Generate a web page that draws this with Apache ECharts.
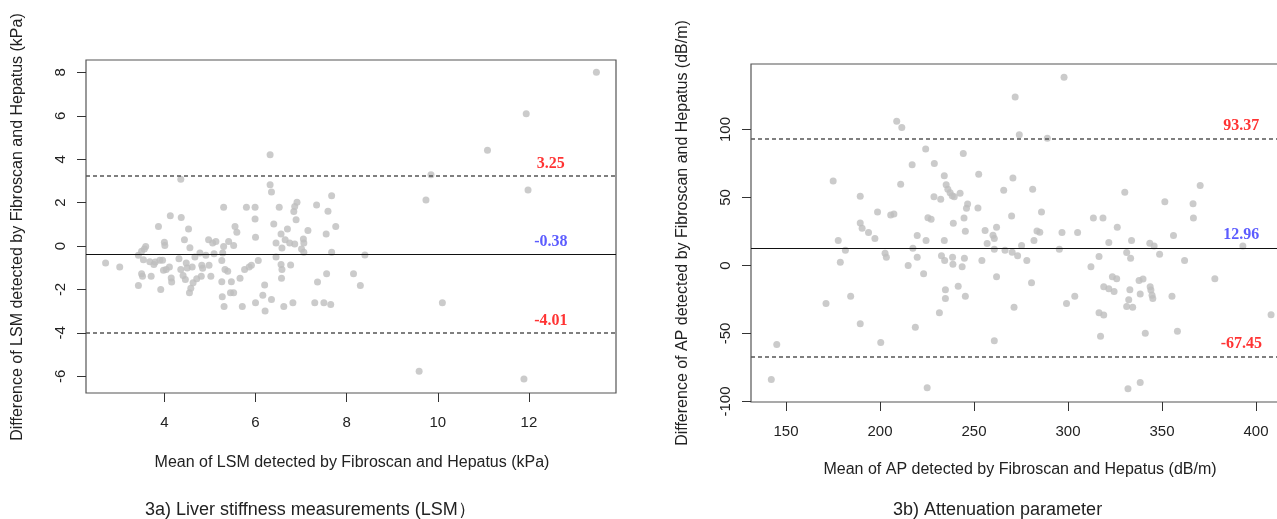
<!DOCTYPE html>
<html>
<head>
<meta charset="utf-8">
<script src="https://cdn.jsdelivr.net/npm/echarts@6/dist/echarts.min.js"></script>
<style>
  html, body { margin: 0; padding: 0; background: #fff; overflow: hidden; }
  /* the right panel runs past the window edge in the reference, so the canvas is a bit wider */
  #main { width: 1300px; height: 519px; }
</style>
</head>
<body>
<div id="main"></div>
<script>
// 3a) LSM: mean of the two devices (kPa) and their difference
const lsmMean = [2.71, 3.02, 3.43, 3.43, 3.50, 3.52, 3.50, 3.54, 3.59, 3.56, 3.68, 3.71, 3.77, 3.80, 3.87, 3.90, 3.92, 3.96, 3.98, 4.00,
  4.01, 4.04, 4.11, 4.13, 4.15, 4.16, 4.32, 4.36, 4.36, 4.37, 4.41, 4.44, 4.46, 4.48, 4.50, 4.53, 4.55, 4.56, 4.58, 4.61,
  4.63, 4.67, 4.71, 4.78, 4.81, 4.82, 4.84, 4.91, 4.97, 4.98, 5.02, 5.06, 5.09, 5.13, 5.27, 5.26, 5.28, 5.30, 5.30, 5.31,
  5.33, 5.26, 5.39, 5.41, 5.45, 5.47, 5.52, 5.52, 5.55, 5.59, 5.66, 5.71, 5.76, 5.80, 5.86, 5.91, 5.99, 5.99, 6.00, 6.00,
  6.06, 6.16, 6.20, 6.21, 6.32, 6.32, 6.35, 6.35, 6.40, 6.45, 6.45, 6.52, 6.56, 6.58, 6.56, 6.58, 6.57, 6.62, 6.65, 6.70,
  6.75, 6.77, 6.82, 6.84, 6.86, 6.86, 6.89, 6.91, 7.01, 7.05, 7.06, 7.06, 7.15, 7.30, 7.34, 7.36, 7.50, 7.55, 7.56, 7.59,
  7.65, 7.67, 7.67, 7.76, 8.15, 8.30, 8.40, 9.59, 9.74, 9.85, 10.10, 11.09, 11.94, 11.89, 11.98, 13.48];
const lsmDiff = [-0.78, -0.96, -1.82, -0.43, -1.28, -1.39, -0.24, -0.63, -0.02, -0.14, -0.72, -1.39, -0.85, -0.73, 0.90, -0.66, -2.00, -0.66, -1.11, 0.18,
  0.02, -1.08, -0.96, 1.40, -1.47, -1.66, -0.58, -1.08, 3.08, 1.31, -1.36, 0.29, -1.54, -0.78, -1.01, 0.79, -2.15, -0.08, -1.94, -0.96,
  -1.69, -0.50, -1.51, -0.32, -1.39, -0.89, -1.02, -0.43, 0.29, -0.89, -1.39, 0.14, -0.35, 0.21, -2.34, -0.67, -0.32, 1.79, -0.02, -2.79,
  -1.08, -1.65, -1.16, 0.21, -2.15, -1.65, 0.02, -2.15, 0.90, 0.63, -1.48, -2.79, -1.08, 1.79, -0.96, -0.89, 1.79, 1.24, 0.40, -2.61,
  -0.67, -2.27, -1.80, -2.99, 4.21, 2.82, 2.49, -2.46, 1.01, 0.14, -0.50, 1.79, 0.55, -0.09, -0.85, -1.08, -1.48, -2.79, 0.29, 0.79,
  0.14, -0.87, -2.61, 1.59, 1.82, 0.09, 1.21, 2.02, -0.14, 0.32, 0.14, -0.29, 0.72, -2.61, 1.89, -1.66, -2.61, 0.55, -1.28, 1.60,
  -2.69, 2.32, -0.29, 0.90, -1.28, -1.82, -0.41, -5.77, 2.12, 3.28, -2.61, 4.41, 6.09, -6.12, 2.58, 8.00];
const lsmLimits = [3.25, -0.38, -4.01];   // upper LoA, bias, lower LoA
const lsmTicksX = [4, 6, 8, 10, 12];
const lsmTicksY = [-6, -4, -2, 0, 2, 4, 6, 8];

// 3b) AP: mean of the two devices (dB/m) and their difference
const apMean = [142.2, 145.1, 171.3, 175.1, 177.8, 178.9, 181.6, 184.4, 189.5, 189.5, 190.5, 189.5, 193.9, 197.3, 198.7, 200.4, 202.7, 203.4, 205.7, 207.4,
  208.9, 211.6, 211.0, 215.0, 217.1, 217.5, 218.8, 219.8, 219.8, 223.2, 224.3, 224.5, 225.1, 225.5, 227.2, 228.9, 228.7, 231.6, 232.3, 232.7,
  234.2, 234.2, 234.4, 234.8, 234.8, 235.2, 236.1, 237.3, 238.4, 238.6, 238.8, 239.0, 239.5, 241.6, 242.6, 243.7, 244.3, 244.7, 244.9, 245.4,
  245.4, 246.0, 246.6, 252.1, 252.5, 254.2, 255.9, 257.0, 260.1, 260.8, 260.8, 260.8, 262.0, 262.0, 265.8, 266.5, 270.0, 270.3, 270.7, 271.3,
  271.9, 273.2, 274.1, 275.3, 278.1, 280.6, 281.2, 281.9, 283.5, 285.0, 285.9, 289.0, 295.4, 296.8, 297.9, 299.2, 303.6, 305.1, 312.2, 313.5,
  316.5, 316.5, 317.3, 318.6, 319.0, 319.0, 321.7, 321.7, 323.6, 324.5, 325.9, 326.2, 330.2, 331.2, 331.2, 331.9, 332.3, 332.9, 333.3, 333.8,
  334.4, 337.8, 338.4, 338.4, 339.9, 341.1, 343.5, 343.7, 344.1, 344.7, 345.1, 345.8, 348.7, 351.5, 355.3, 356.1, 358.2, 362.0, 366.5, 366.7,
  370.3, 378.1, 393.0, 408.0];
const apDiff = [-83.9, -58.2, -27.9, 62.1, 18.3, 2.4, 11.2, -22.7, 50.9, 31.3, 27.4, -42.8, 24.2, 19.8, 39.4, -56.7, 9.0, 6.1, 37.2, 37.9,
  106.1, 101.5, 59.7, 0.0, 74.1, 12.7, -45.5, 22.0, 6.1, -6.1, 85.6, 18.3, -90.0, 35.2, 34.0, 75.1, 50.6, -34.7, 48.7, 7.1,
  18.3, 66.0, 3.7, -17.8, -24.2, 59.4, 56.0, 53.5, 51.3, 6.1, 1.0, 31.1, 50.6, -15.2, 53.1, -1.0, 82.4, 35.0, 5.4, 25.2,
  -22.7, 42.1, 45.2, 42.3, 67.2, 3.7, 25.7, 16.1, 22.2, 19.8, 12.0, -55.3, 28.1, -8.3, 55.3, 11.2, 36.4, 9.8, 64.3, -30.8,
  124.0, 7.1, 96.1, 14.7, 3.7, -12.7, 56.0, 18.3, 25.4, 24.4, 39.4, 93.6, 12.0, 24.2, 138.4, -27.9, -22.7, 24.2, -1.0, 35.0,
  6.6, -34.7, -52.1, 35.0, -15.6, -36.4, -17.1, 16.9, -8.3, -19.1, -9.8, 28.1, 53.8, 9.5, -30.1, -90.7, -25.2, -17.8, 5.4, 18.3,
  -30.8, -11.0, -21.0, -86.1, -10.0, -49.9, 16.4, -15.6, -18.1, -21.8, -24.2, 14.4, 8.3, 46.9, -22.7, 22.0, -48.4, 3.7, 45.5, 35.0,
  58.9, -9.8, 14.4, -36.2];
const apLimits = [93.37, 12.96, -67.45];
const apTicksX = [150, 200, 250, 300, 350, 400];
const apTicksY = [-100, -50, 0, 50, 100];

const limitColors = ['#ff0000', '#3333ff', '#ff0000'];
const pointColor = '#bebebe';
const sans = 'Liberation Sans, Arial, sans-serif';

function zip(xs, ys) {
  return xs.map((x, i) => [x, ys[i]]);
}

function xAxisFor(grid, min, max, ticks) {
  return {
    type: 'value', gridIndex: grid, min: min, max: max,
    splitLine: { show: false },
    axisLine: { show: false, onZero: false },
    axisTick: { show: true, customValues: ticks, length: 9, lineStyle: { color: '#333' } },
    axisLabel: { customValues: ticks, margin: 22, fontSize: 15, color: '#222', fontFamily: sans }
  };
}

function yAxisFor(grid, min, max, ticks) {
  return {
    type: 'value', gridIndex: grid, min: min, max: max,
    splitLine: { show: false },
    axisLine: { show: false, onZero: false },
    axisTick: { show: true, customValues: ticks, length: 9, lineStyle: { color: '#333' } },
    axisLabel: { customValues: ticks, rotate: 90, margin: 18, fontSize: 15, color: '#222', fontFamily: sans }
  };
}

function limitLines(limits) {
  return {
    silent: true,
    symbol: 'none',
    label: { show: false },
    data: limits.map((v, i) => ({
      yAxis: v,
      lineStyle: i === 1
        ? { color: '#111', width: 1.2, type: 'solid' }
        : { color: '#555', width: 1.5, type: [4, 3] }
    }))
  };
}

function limitLabels(grid, xPos, limits, dist) {
  return {
    type: 'scatter', xAxisIndex: grid, yAxisIndex: grid,
    symbolSize: 0, silent: true, z: 5,
    data: limits.map((v, i) => ({
      value: [xPos, v],
      label: {
        show: true, position: 'top', distance: dist,
        formatter: v.toFixed(2),
        color: limitColors[i], fontSize: 16, fontWeight: 'bold',
        fontFamily: 'Liberation Serif, Times New Roman, serif'
      }
    }))
  };
}

function textEl(str, x, y, rot, size, align) {
  return {
    type: 'text', x: x, y: y, rotation: rot || 0,
    style: {
      text: str, fill: '#222', font: size + 'px ' + sans,
      textAlign: align || 'center', textVerticalAlign: 'middle'
    }
  };
}

const myChart = echarts.init(document.getElementById('main'));

const option = {
  backgroundColor: '#fff',
  animation: false,
  grid: [
    { left: 86, top: 60, width: 530, height: 333, show: true, borderColor: '#555', borderWidth: 1.2, backgroundColor: 'transparent' },
    { left: 751, top: 64, width: 540, height: 338, show: true, borderColor: '#555', borderWidth: 1.2, backgroundColor: 'transparent' }
  ],
  xAxis: [
    xAxisFor(0, 2.28, 13.91, lsmTicksX),
    xAxisFor(1, 131.4, 418.6, apTicksX)
  ],
  yAxis: [
    yAxisFor(0, -6.77, 8.57, lsmTicksY),
    yAxisFor(1, -100.4, 148.2, apTicksY)
  ],
  series: [
    {
      type: 'scatter', xAxisIndex: 0, yAxisIndex: 0,
      symbolSize: 7, itemStyle: { color: pointColor },
      data: zip(lsmMean, lsmDiff),
      markLine: limitLines(lsmLimits)
    },
    limitLabels(0, 12.48, lsmLimits, 4),
    {
      type: 'scatter', xAxisIndex: 1, yAxisIndex: 1,
      symbolSize: 7, itemStyle: { color: pointColor },
      data: zip(apMean, apDiff),
      markLine: limitLines(apLimits)
    },
    limitLabels(1, 392.2, apLimits, 5)
  ],
  graphic: [
    textEl('Difference of LSM detected by Fibroscan and Hepatus (kPa)', 18, 227, Math.PI / 2, 16),
    textEl('Mean of LSM detected by Fibroscan and Hepatus (kPa)', 352, 463, 0, 16),
    textEl('3a) Liver stiffness measurements (LSM）', 145, 510, 0, 18, 'left'),
    textEl('Difference of AP detected by Fibroscan and Hepatus (dB/m)', 683, 233, Math.PI / 2, 16),
    textEl('Mean of AP detected by Fibroscan and Hepatus (dB/m)', 1020, 470, 0, 16),
    textEl('3b) Attenuation parameter', 893, 510, 0, 18, 'left')
  ]
};

myChart.setOption(option);
</script>
</body>
</html>
